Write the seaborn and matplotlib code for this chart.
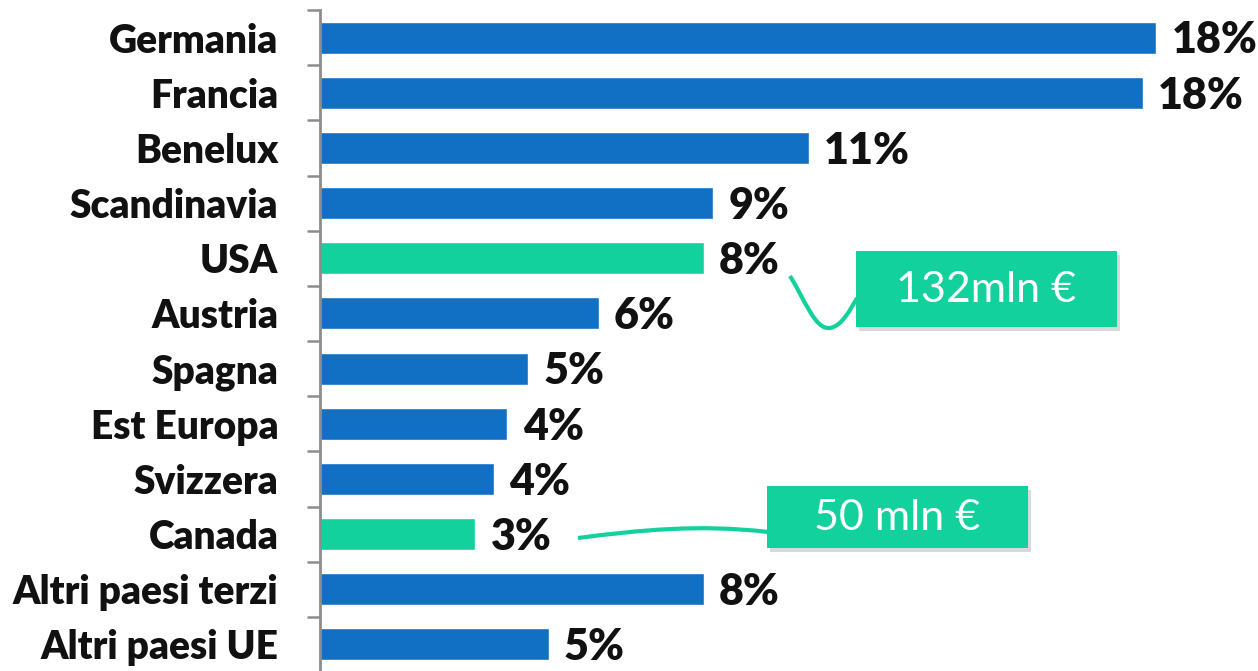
import matplotlib
matplotlib.use("Agg")
import matplotlib.pyplot as plt
import seaborn as sns
import pandas as pd
from matplotlib.patches import Rectangle, PathPatch
from matplotlib.path import Path

categories = ["Germania", "Francia", "Benelux", "Scandinavia", "USA", "Austria",
              "Spagna", "Est Europa", "Svizzera", "Canada", "Altri paesi terzi", "Altri paesi UE"]
values = [18.3, 18.0, 10.7, 8.6, 8.4, 6.1, 4.55, 4.1, 3.8, 3.4, 8.4, 5.0]
value_labels = ["18%", "18%", "11%", "9%", "8%", "6%", "5%", "4%", "4%", "3%", "8%", "5%"]
highlight = ["USA", "Canada"]
callouts = {"USA": "132mln €", "Canada": "50 mln €"}

BLUE = "#1170C4"
GREEN = "#13D19C"

sns.set_style("white")
plt.rcParams['font.family'] = ['Lato', 'DejaVu Sans']

W, H = 1258, 671
fig = plt.figure(figsize=(W / 100, H / 100), dpi=100)
ax = fig.add_axes([320 / W, 1 - 672 / H, 1 - 320 / W, (672 - 10) / H])

df = pd.DataFrame({"cat": categories, "val": values})
palette = {c: (GREEN if c in highlight else BLUE) for c in categories}
sns.barplot(data=df, y="cat", x="val", hue="cat", palette=palette, order=categories,
            width=0.58, legend=False, ax=ax, saturation=1)

ax.set_xlim(0, (W - 320) / 45.7)
ax.set_ylim(len(categories) - 0.5, -0.5)
ax.set_xlabel("")
ax.set_ylabel("")
ax.set_xticks([])
for s in ["top", "right", "bottom"]:
    ax.spines[s].set_visible(False)
ax.spines["left"].set_color("#8C8C8C")
ax.spines["left"].set_linewidth(2)

# category labels
ax.set_yticks(range(len(categories)))
ax.set_yticklabels(categories, fontsize=28, fontweight="heavy", color="#111111")
ax.tick_params(axis="y", which="major", left=False, length=0, pad=30)
ax.set_yticks([i - 0.5 for i in range(len(categories) + 1)], minor=True)
ax.tick_params(axis="y", which="minor", left=True, length=9.5, width=1.8,
               color="#8C8C8C", direction="out")

for i, (v, lab) in enumerate(zip(values, value_labels)):
    ax.annotate(lab, xy=(v, i), xytext=(11, -2), textcoords="offset points",
                va="center", ha="left", fontsize=31, fontweight="heavy", color="#111111",
                annotation_clip=False)

def fx(x):
    return x / W

def fy(y):
    return 1 - y / H

def box(x0, y0, x1, y1, text):
    shadow = Rectangle((fx(x0 + 3), fy(y1 + 4)), fx(x1 - x0), (y1 - y0) / H,
                       transform=fig.transFigure, facecolor="#000000", alpha=0.15,
                       edgecolor="none", zorder=5)
    fig.add_artist(shadow)
    r = Rectangle((fx(x0), fy(y1)), fx(x1 - x0), (y1 - y0) / H,
                  transform=fig.transFigure, facecolor=GREEN, edgecolor="none", zorder=6)
    fig.add_artist(r)
    fig.text(fx((x0 + x1) / 2), fy((y0 + y1) / 2 + 1), text, ha="center", va="center",
             color="white", fontsize=31, zorder=7)

def curve(pts, codes):
    p = Path([(fx(x), fy(y)) for x, y in pts], codes)
    fig.add_artist(PathPatch(p, transform=fig.transFigure, facecolor="none",
                             edgecolor=GREEN, linewidth=3, zorder=4))

C4 = Path.CURVE4
curve([(790, 276), (805, 300), (815, 330), (830, 328), (842, 326), (850, 310), (857, 298)],
      [Path.MOVETO, C4, C4, C4, C4, C4, C4])
curve([(578, 538), (640, 530), (700, 524), (768, 532)],
      [Path.MOVETO, C4, C4, C4])

box(856, 251, 1117, 327, callouts["USA"])
box(767, 486, 1028, 548, callouts["Canada"])

fig.savefig("out.png", dpi=100)
